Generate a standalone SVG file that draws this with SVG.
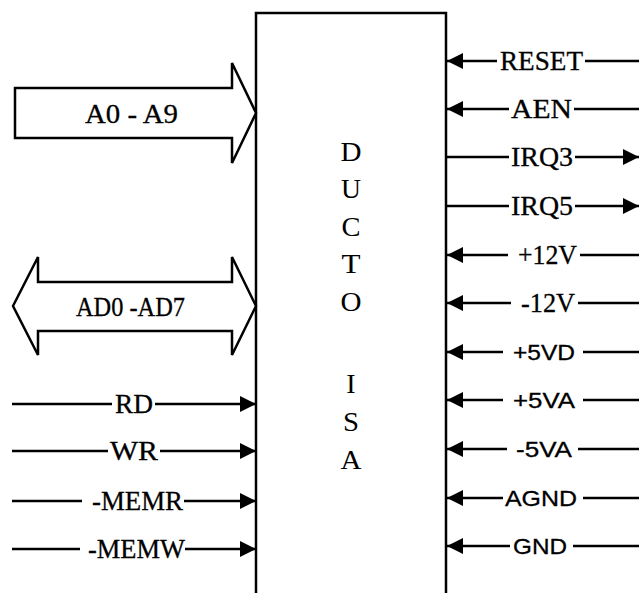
<svg xmlns="http://www.w3.org/2000/svg" width="639" height="593" viewBox="0 0 639 593">
<defs>
<marker id="ah" markerUnits="userSpaceOnUse" markerWidth="17" markerHeight="17" refX="16" refY="8" orient="auto">
<path d="M0,0 L16,8 L0,16 Z" fill="#000"/>
</marker>
<style>
.w{stroke:#000;stroke-width:2.5;fill:none}
.a{stroke:#000;stroke-width:2.5;fill:none;marker-end:url(#ah)}
.bus{stroke:#000;stroke-width:2.5;fill:#fff;stroke-linejoin:miter}
.t{font-family:"Liberation Serif","Times New Roman",serif;font-size:27px;fill:#000;stroke:#000;stroke-width:0.3}
.s{font-family:"Liberation Sans",Arial,sans-serif;font-size:22px;fill:#000;stroke:#000;stroke-width:0.3}
.c{font-family:"Liberation Serif","Times New Roman",serif;font-size:28px;fill:#000;text-anchor:middle}
</style>
</defs>
<rect width="639" height="593" fill="#fff"/>

<g id="ducto-isa">
<path class="w" d="M256,593 V13 H446 V593"/>
<text class="c" x="351" y="161" textLength="21" lengthAdjust="spacingAndGlyphs">D</text>
<text class="c" x="351" y="198" textLength="20" lengthAdjust="spacingAndGlyphs">U</text>
<text class="c" x="351" y="236" textLength="19" lengthAdjust="spacingAndGlyphs">C</text>
<text class="c" x="351" y="273" textLength="19" lengthAdjust="spacingAndGlyphs">T</text>
<text class="c" x="351" y="311" textLength="21" lengthAdjust="spacingAndGlyphs">O</text>
<text class="c" x="351" y="393">I</text>
<text class="c" x="351" y="431" textLength="16" lengthAdjust="spacingAndGlyphs">S</text>
<text class="c" x="351" y="469" textLength="21" lengthAdjust="spacingAndGlyphs">A</text>
</g>

<g id="bus-a0-a9">
<polygon class="bus" points="15,88 232,88 232,63 256,113 232,163 232,138 15,138"/>
<text class="t" x="85" y="123" textLength="93" lengthAdjust="spacingAndGlyphs">A0 - A9</text>
</g>

<g id="bus-ad0-ad7">
<polygon class="bus" points="13,306 38,257 38,282 232,282 232,257 256,306 232,355 232,331 38,331 38,355"/>
<text class="t" x="76" y="316" textLength="109" lengthAdjust="spacingAndGlyphs">AD0 -AD7</text>
</g>

<g id="labels">
<text class="t" x="115" y="413" textLength="38" lengthAdjust="spacingAndGlyphs">RD</text>
<text class="t" x="110" y="460" textLength="48" lengthAdjust="spacingAndGlyphs">WR</text>
<text class="t" x="92" y="510" textLength="91" lengthAdjust="spacingAndGlyphs">-MEMR</text>
<text class="t" x="88" y="558" textLength="97" lengthAdjust="spacingAndGlyphs">-MEMW</text>

<text class="t" x="500" y="70" textLength="83" lengthAdjust="spacingAndGlyphs">RESET</text>
<text class="t" x="511" y="118" textLength="61" lengthAdjust="spacingAndGlyphs">AEN</text>
<text class="t" x="511" y="166" textLength="62" lengthAdjust="spacingAndGlyphs">IRQ3</text>
<text class="t" x="511" y="215" textLength="62" lengthAdjust="spacingAndGlyphs">IRQ5</text>
<text class="t" x="518" y="264" textLength="59" lengthAdjust="spacingAndGlyphs">+12V</text>
<text class="t" x="521" y="312" textLength="54" lengthAdjust="spacingAndGlyphs">-12V</text>
<text class="s" x="513" y="360" textLength="62" lengthAdjust="spacingAndGlyphs">+5VD</text>
<text class="s" x="513" y="408" textLength="62" lengthAdjust="spacingAndGlyphs">+5VA</text>
<text class="s" x="516" y="457" textLength="56" lengthAdjust="spacingAndGlyphs">-5VA</text>
<text class="s" x="505" y="506" textLength="72" lengthAdjust="spacingAndGlyphs">AGND</text>
<text class="s" x="513" y="554" textLength="54" lengthAdjust="spacingAndGlyphs">GND</text>
</g>

<g id="connectors">
<line class="w" x1="12" y1="404" x2="112" y2="404"/><line class="a" x1="155" y1="404" x2="256" y2="404"/>
<line class="w" x1="12" y1="451" x2="108" y2="451"/><line class="a" x1="160" y1="451" x2="256" y2="451"/>
<line class="w" x1="12" y1="501" x2="82" y2="501"/><line class="a" x1="184" y1="501" x2="256" y2="501"/>
<line class="w" x1="12" y1="549" x2="80" y2="549"/><line class="a" x1="185" y1="549" x2="256" y2="549"/>

<line class="a" x1="497" y1="61" x2="447" y2="61"/><line class="w" x1="585" y1="61" x2="639" y2="61"/>
<line class="a" x1="509" y1="109" x2="447" y2="109"/><line class="w" x1="574" y1="109" x2="639" y2="109"/>
<line class="w" x1="447" y1="157" x2="509" y2="157"/><line class="a" x1="575" y1="157" x2="639" y2="157"/>
<line class="w" x1="447" y1="206" x2="509" y2="206"/><line class="a" x1="575" y1="206" x2="639" y2="206"/>
<line class="a" x1="508" y1="255" x2="447" y2="255"/><line class="w" x1="580" y1="255" x2="639" y2="255"/>
<line class="a" x1="511" y1="303" x2="447" y2="303"/><line class="w" x1="578" y1="303" x2="639" y2="303"/>
<line class="a" x1="503" y1="352" x2="447" y2="352"/><line class="w" x1="583" y1="352" x2="639" y2="352"/>
<line class="a" x1="503" y1="400" x2="447" y2="400"/><line class="w" x1="583" y1="400" x2="639" y2="400"/>
<line class="a" x1="507" y1="449" x2="447" y2="449"/><line class="w" x1="578" y1="449" x2="639" y2="449"/>
<line class="a" x1="503" y1="498" x2="447" y2="498"/><line class="w" x1="583" y1="498" x2="639" y2="498"/>
<line class="a" x1="510" y1="546" x2="447" y2="546"/><line class="w" x1="573" y1="546" x2="639" y2="546"/>
</g>
</svg>
